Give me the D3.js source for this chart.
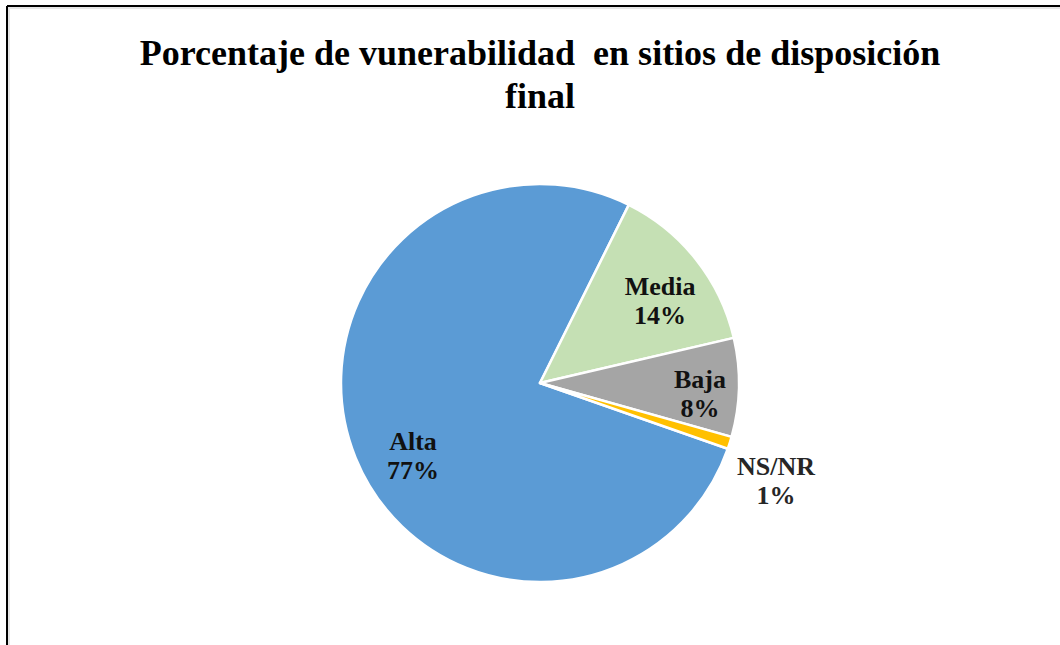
<!DOCTYPE html>
<html lang="es">
<head>
<meta charset="utf-8">
<title>Porcentaje de vunerabilidad en sitios de disposición final</title>
<script src="https://cdn.jsdelivr.net/npm/d3@7"></script>
<style>
  body { margin: 0; background: #fff; }
  svg text { font-family: "Liberation Serif", "Times New Roman", serif; font-weight: bold; }
</style>
</head>
<body>
<script>
// data
var categories = ["Alta", "Media", "Baja", "NS/NR"];
var values = [77, 14, 8, 1];
var percentLabels = ["77%", "14%", "8%", "1%"];
var colors = ["#5b9bd5", "#c5e0b4", "#a5a5a5", "#ffc000"];
var titleLines = ["Porcentaje de vunerabilidad  en sitios de disposición", "final"];

var w = 1060, h = 645;
var cx = 540, cy = 383, r = 199;

var svg = d3.select("body").append("svg")
  .attr("width", w)
  .attr("height", h);

// frame (only top and left edges show)
svg.append("rect").attr("x", 9).attr("y", 8).attr("width", w).attr("height", h)
  .attr("fill", "none").attr("stroke", "#e6e6e6").attr("stroke-width", 2);
svg.append("line").attr("x1", 7).attr("y1", 6).attr("x2", w).attr("y2", 6)
  .attr("stroke", "#000").attr("stroke-width", 2);
svg.append("line").attr("x1", 7).attr("y1", 6).attr("x2", 7).attr("y2", h)
  .attr("stroke", "#000").attr("stroke-width", 2);

// title
svg.append("text")
  .attr("x", cx).attr("y", 65)
  .attr("text-anchor", "middle")
  .attr("font-size", 36)
  .style("white-space", "pre")
  .text(titleLines[0]);
svg.append("text")
  .attr("x", cx).attr("y", 108)
  .attr("text-anchor", "middle")
  .attr("font-size", 36)
  .text(titleLines[1]);

var start = (26.5 + 360 * 0.23) * Math.PI / 180;
var pie = d3.pie().sort(null).startAngle(start).endAngle(start + 2 * Math.PI);
var arcs = pie(values);
var arc = d3.arc().innerRadius(0).outerRadius(r);

var g = svg.append("g").attr("transform", "translate(" + cx + "," + cy + ")");

g.selectAll("path")
  .data(arcs)
  .enter()
  .append("path")
  .attr("d", arc)
  .attr("fill", function(d, i) { return colors[i]; })
  .attr("stroke", "#fff")
  .attr("stroke-width", 2.5)
  .attr("stroke-linejoin", "round");

// label placement: fraction of radius and angle nudge (degrees) from slice middle
var labelRadius = [0.736, 0.73, 0.806, 1.284];
var labelTurn = [-7.8, 4, 2.6, 5];
var labelPos = function(d, i) {
  var a = (d.startAngle + d.endAngle) / 2 + labelTurn[i] * Math.PI / 180;
  var lr = r * labelRadius[i];
  return [Math.sin(a) * lr, -Math.cos(a) * lr];
};

var labels = g.selectAll("g.lbl")
  .data(arcs)
  .enter()
  .append("g")
  .attr("class", "lbl")
  .attr("transform", function(d, i) {
    var p = labelPos(d, i);
    return "translate(" + p[0] + "," + p[1] + ")";
  });

labels.append("text")
  .attr("text-anchor", "middle")
  .attr("font-size", 26)
  .attr("fill", function(d, i) { return i === 3 ? "#262626" : "#111"; })
  .attr("y", -6)
  .text(function(d, i) { return categories[i]; });
labels.append("text")
  .attr("text-anchor", "middle")
  .attr("font-size", 26)
  .attr("fill", function(d, i) { return i === 3 ? "#262626" : "#111"; })
  .attr("y", 23)
  .text(function(d, i) { return percentLabels[i]; });
</script>
</body>
</html>
